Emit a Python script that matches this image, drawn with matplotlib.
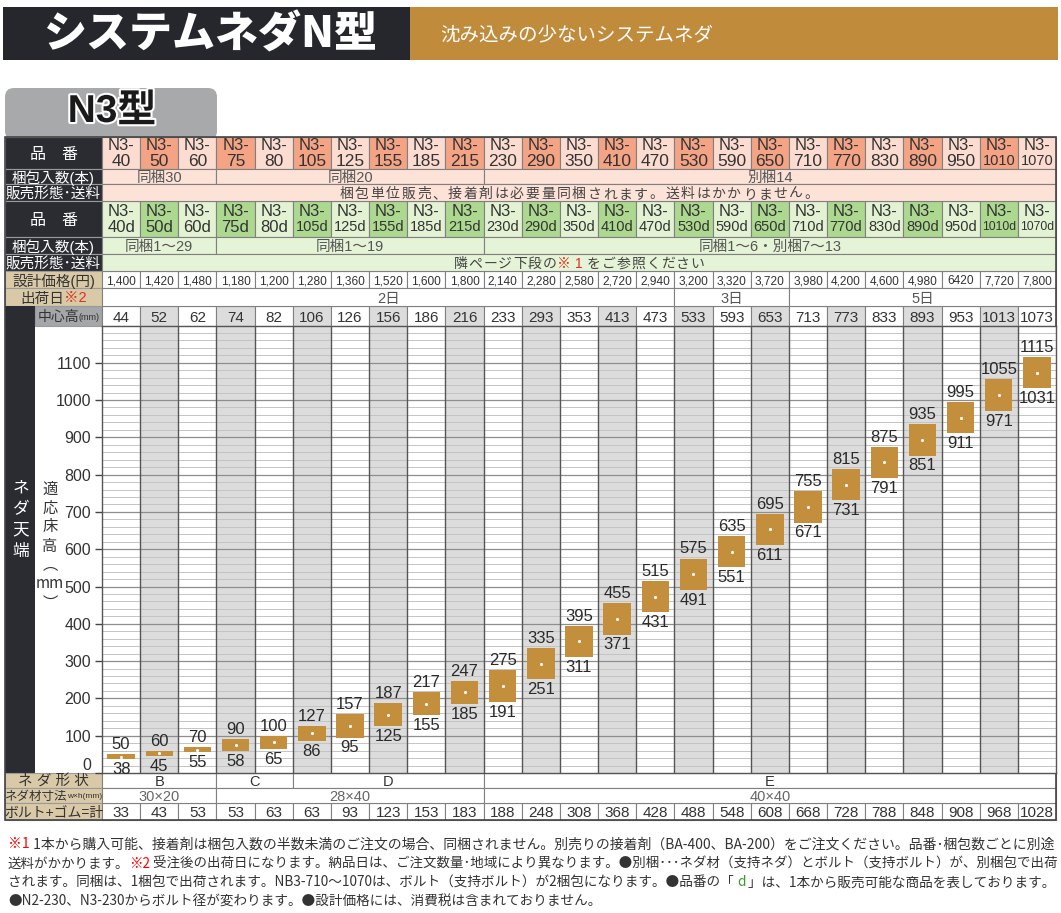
import matplotlib
matplotlib.use('Agg')
import matplotlib.pyplot as plt
from matplotlib.patches import Rectangle, FancyBboxPatch
import matplotlib.patheffects as pe
import numpy as np

plt.rcParams['font.family'] = ['Liberation Sans', 'Noto Sans CJK JP']

# ---- data ----
models = ['40', '50', '60', '75', '80', '105', '125', '155', '185', '215', '230', '290', '350',
          '410', '470', '530', '590', '650', '710', '770', '830', '890', '950', '1010', '1070']
models_d = [m + 'd' for m in models]
pack_pink = [('同梱30', 0, 2), ('同梱20', 3, 9), ('別梱14', 10, 24)]
pack_green = [('同梱1～29', 0, 2), ('同梱1～19', 3, 9), ('同梱1～6・別梱7～13', 10, 24)]
sales_pink = '梱包単位販売、接着剤は必要量同梱されます。送料はかかりません。'
prices = ['1,400', '1,420', '1,480', '1,180', '1,200', '1,280', '1,360', '1,520', '1,600', '1,800',
          '2,140', '2,280', '2,580', '2,720', '2,940', '3,200', '3,320', '3,720', '3,980', '4,200',
          '4,600', '4,980', '6420', '7,720', '7,800']
ship_days = [('2日', 0, 14), ('3日', 15, 17), ('5日', 18, 24)]
center_h = [44, 52, 62, 74, 82, 106, 126, 156, 186, 216, 233, 293, 353, 413, 473, 533, 593, 653,
            713, 773, 833, 893, 953, 1013, 1073]
floor_low = [38, 45, 55, 58, 65, 86, 95, 125, 155, 185, 191, 251, 311, 371, 431, 491, 551, 611,
             671, 731, 791, 851, 911, 971, 1031]
floor_high = [50, 60, 70, 90, 100, 127, 157, 187, 217, 247, 275, 335, 395, 455, 515, 575, 635, 695,
              755, 815, 875, 935, 995, 1055, 1115]
shapes = [('B', 0, 2), ('C', 3, 4), ('D', 5, 9), ('E', 10, 24)]
sizes = [('30×20', 0, 2), ('28×40', 3, 9), ('40×40', 10, 24)]
bolt = [33, 43, 53, 53, 63, 63, 93, 123, 153, 183, 188, 248, 308, 368, 428, 488, 548, 608, 668,
        728, 788, 848, 908, 968, 1028]
row_labels = ['品　番', '梱包入数(本)', '販売形態･送料', '品　番', '梱包入数(本)', '販売形態･送料']

notes = [
    [('※1', 'red'), (' 1本から購入可能、接着剤は梱包入数の半数未満のご注文の場合、同梱されません。別売りの接着剤（BA-400、BA-200）をご注文ください。品番･梱包数ごとに別途', 'k')],
    [('送料がかかります。', 'k'), ('※2', 'red'), (' 受注後の出荷日になります。納品日は、ご注文数量･地域により異なります。●別梱･･･ネダ材（支持ネダ）とボルト（支持ボルト）が、別梱包で出荷', 'k')],
    [('されます。同梱は、1梱包で出荷されます。NB3-710～1070は、ボルト（支持ボルト）が2梱包になります。●品番の「 ', 'k'), ('d', '#3a9a2a'), (' 」は、1本から販売可能な商品を表しております。', 'k')],
    [('●N2-230、N3-230からボルト径が変わります。●設計価格には、消費税は含まれておりません。', 'k')],
]

# ---- layout (pixels) ----
W, H = 1061, 913
X0, X1 = 102, 1056
N = len(models)
CW = (X1 - X0) / N
LX = 5
RY = [137, 169, 184, 201, 237, 254, 271, 288, 306, 326]
CHART_BOT = 773
BY = [773, 788, 803, 820]
PX_PER = 0.373

DARK = '#2a2c32'
TAN = '#d9c9a6'
GOLD = '#c38f3d'
TXT = '#333333'
EDGE = '#808080'
JP = ['Noto Sans CJK JP', 'DejaVu Sans']

fig = plt.figure(figsize=(W / 100, H / 100), dpi=100)
tab = fig.add_axes([0, 0, 1, 1])
tab.set_xlim(0, W)
tab.set_ylim(H, 0)
tab.axis('off')
R = fig.canvas.get_renderer()


def colx(i):
    return X0 + i * CW


def cell(x0, y0, x1, y1, fc, ec=EDGE, lw=0.8, z=1):
    tab.add_patch(Rectangle((x0, y0), x1 - x0, y1 - y0, fc=fc, ec=ec, lw=lw, zorder=z))


def segs(x, y, parts, ha='center', family=None):
    # parts: (text, size, color); drawn side by side
    ts, ws = [], []
    for s, size, c in parts:
        t = tab.text(0, y, s, fontsize=size, color=c, va='center_baseline', ha='left', zorder=5)
        if family:
            t.set_family(family)
        ts.append(t)
        ws.append(t.get_window_extent(renderer=R).width)
    x = x - sum(ws) / 2 if ha == 'center' else x
    for t, w in zip(ts, ws):
        t.set_x(x)
        x += w
    return ts, sum(ws)


def spaced(xc, y, chars, pitch, size):
    # chars: list of (char, color)
    x = xc - pitch * (len(chars) - 1) / 2
    for ch, c in chars:
        tab.text(x, y, ch, fontsize=size, color=c, ha='center', va='center_baseline', zorder=5)
        x += pitch


# ---- header ----
tab.add_patch(Rectangle((3, 7), 407, 53, fc='#25272c', ec='none'))
tab.add_patch(Rectangle((410, 7), 648, 53, fc='#c08b3b', ec='none'))
tab.text(210, 35, 'システムネダN型', fontsize=31, weight='heavy', color='white',
         ha='center', va='center', family=JP)
tab.text(440, 35, '沈み込みの少ないシステムネダ', fontsize=14, color='white',
         ha='left', va='center', family=JP)
tab.add_patch(FancyBboxPatch((5, 88), 212, 52, boxstyle='round,pad=0,rounding_size=9',
                             fc='#a8a9ab', ec='none'))
tab.text(112, 112, 'N3型', fontsize=28, weight='bold', color='#1a1a1a', ha='center', va='center',
         path_effects=[pe.withStroke(linewidth=3, foreground='white')])

# ---- left label column ----
for k in range(6):
    cell(LX, RY[k], X0, RY[k + 1], DARK, ec='#9a9a9a')
    tab.text((LX + X0) / 2, (RY[k] + RY[k + 1]) / 2, row_labels[k], color='white',
             fontsize=11.5 if k in (0, 3) else 10.5, ha='center', va='center_baseline')
cell(LX, RY[6], X0, RY[7], TAN, ec='#9a9a9a')
tab.text((LX + X0) / 2, (RY[6] + RY[7]) / 2, '設計価格(円)', color=TXT, fontsize=10.5,
         ha='center', va='center_baseline')
cell(LX, RY[7], X0, RY[8], TAN, ec='#9a9a9a')
segs((LX + X0) / 2, (RY[7] + RY[8]) / 2, [('出荷日', 10.5, TXT), ('※2', 10.5, '#e03020')])
cell(LX, RY[8], 35, CHART_BOT, DARK, ec='none')
cell(35, RY[8], X0, RY[9], '#a4a6aa', ec='#9a9a9a')
segs((35 + X0) / 2, (RY[8] + RY[9]) / 2, [('中心高', 10, TXT), ('(mm)', 6.5, TXT)])
for j, ch in enumerate('ネダ天端'):
    tab.text(21, 488 + j * 21, ch, color='white', fontsize=12, ha='center', va='center')
vchars = ['適', '応', '床', '高', '︵', 'mm', '︶']
for j, ch in enumerate(vchars):
    tab.text(50, 489 + j * 19, ch, color=TXT, fontsize=11, ha='center', va='center', family=JP)
bot_labels = [[('ネ ダ 形 状', 10.5, TXT)], [('ネダ材寸法', 9, TXT), ('w×h(mm)', 6, TXT)],
              [('ボルト+ゴム=計', 10, TXT)]]
for k in range(3):
    cell(LX, BY[k], X0, BY[k + 1], TAN, ec='#9a9a9a')
    segs((LX + X0) / 2, (BY[k] + BY[k + 1]) / 2, bot_labels[k])

# ---- product rows ----
for i in range(N):
    xc = colx(i) + CW / 2
    cell(colx(i), RY[0], colx(i + 1), RY[1], '#f4a384' if i % 2 else '#fcdcd0')
    tab.text(xc, RY[0] + 9, 'N3-', fontsize=12, color=TXT, ha='center', va='center')
    tab.text(xc, RY[0] + 24, models[i], fontsize=12.5 if len(models[i]) < 4 else 10.5,
             color=TXT, ha='center', va='center')
    cell(colx(i), RY[3], colx(i + 1), RY[4], '#acd88f' if i % 2 else '#e3f2d3')
    dsz = 12 if len(models_d[i]) <= 3 else (10.5 if len(models_d[i]) == 4 else 8.8)
    tab.text(xc, RY[3] + 10, 'N3-', fontsize=12, color=TXT, ha='center', va='center')
    tab.text(xc, RY[3] + 26, models_d[i], fontsize=dsz, color=TXT, ha='center', va='center')
    cell(colx(i), RY[6], colx(i + 1), RY[7], 'white')
    tab.text(xc, (RY[6] + RY[7]) / 2, prices[i], fontsize=8.6, color=TXT, ha='center',
             va='center_baseline')
    cell(colx(i), RY[8], colx(i + 1), RY[9], '#dcdcdc' if i % 2 else 'white')
    tab.text(xc, (RY[8] + RY[9]) / 2, str(center_h[i]), fontsize=11, color=TXT, ha='center',
             va='center_baseline')
    cell(colx(i), BY[2], colx(i + 1), BY[3], 'white')
    tab.text(xc, (BY[2] + BY[3]) / 2, str(bolt[i]), fontsize=11, color=TXT, ha='center',
             va='center_baseline')


def span_row(spans, y0, y1, fc, size, color='#555555'):
    for s, a, b in spans:
        cell(colx(a), y0, colx(b + 1), y1, fc)
        tab.text((colx(a) + colx(b + 1)) / 2, (y0 + y1) / 2, s, fontsize=size, color=color,
                 ha='center', va='center_baseline')


span_row(pack_pink, RY[1], RY[2], '#fde2d7', 10.5)
cell(X0, RY[2], X1, RY[3], '#fde2d7')
spaced((X0 + X1) / 2, (RY[2] + RY[3]) / 2, [(c, '#444444') for c in sales_pink], 15.5, 10)
span_row(pack_green, RY[4], RY[5], '#e5f3d6', 10.5)
cell(X0, RY[5], X1, RY[6], '#e5f3d6')
green_txt = [(c, '#444444') for c in '隣ページ下段の'] + [('※', '#e03020'), ('1', '#e03020')] + \
            [(c, '#444444') for c in 'をご参照ください']
spaced((X0 + X1) / 2, (RY[5] + RY[6]) / 2, green_txt, 14.8, 10)
span_row(ship_days, RY[7], RY[8], 'white', 10.5)
span_row(shapes, BY[0], BY[1], 'white', 10.5, TXT)
span_row(sizes, BY[1], BY[2], 'white', 10.5, '#666666')

# ---- chart ----
ax = fig.add_axes([X0 / W, (H - CHART_BOT) / H, (X1 - X0) / W, (CHART_BOT - RY[9]) / H])
ymax = (CHART_BOT - RY[9]) / PX_PER
ax.set_xlim(-0.5, N - 0.5)
ax.set_ylim(0, ymax)
x = np.arange(N)
for i in x[1::2]:
    ax.axvspan(i - 0.5, i + 0.5, color='#dcdcdc', lw=0, zorder=0)
for v in range(20, int(ymax), 20):
    ax.axhline(v, color='#8e8e8e' if v % 100 == 0 else '#c4c4c4', lw=0.9 if v % 100 == 0 else 0.7,
               zorder=1)
for i in x[:-1]:
    ax.axvline(i + 0.5, color='#555555', lw=1.0, zorder=2)
lo = np.array(floor_low)
hi = np.array(floor_high)
ax.bar(x, hi - lo, bottom=lo, width=0.72, color=GOLD, zorder=3)
ax.scatter(x, (lo + hi) / 2, s=5, color='white', zorder=4, lw=0)
for i in x:
    ax.annotate(str(hi[i]), (i, hi[i]), xytext=(0, 1.5), textcoords='offset points', ha='center',
                va='bottom', fontsize=12, color='#2a2a2a', zorder=5)
    ax.annotate(str(lo[i]), (i, lo[i]), xytext=(0, -2), textcoords='offset points', ha='center',
                va='top', fontsize=12, color='#2a2a2a', zorder=5)
ax.set_xticks([])
ax.set_yticks(range(0, 1200, 100))
ax.tick_params(axis='y', length=5, width=1, color='#444444', labelsize=11.5, labelcolor=TXT, pad=3)
ax.yaxis.get_major_ticks()[0].label1.set_verticalalignment('bottom')
for s in ax.spines.values():
    s.set_color('#555555')
    s.set_linewidth(1)

# table outline
tab.add_patch(Rectangle((LX, RY[0]), X1 - LX, BY[3] - RY[0], fc='none', ec='#444444', lw=1.2, zorder=6))

# ---- footnotes ----
fsize = 9
for k, line in enumerate(notes):
    y = 843 + k * 19
    parts = [(s, 9, c if c != 'k' else '#333333') for s, c in line]
    if k < 3:
        ts, w = segs(8, -100, parts, ha='left', family=JP)
        for t in ts:
            t.remove()
        fsize = 9 * 1047 / w
    parts = [(s, fsize, c) for s, _, c in parts]
    segs(8, y, parts, ha='left', family=JP)

fig.savefig('out.png', dpi=100)
